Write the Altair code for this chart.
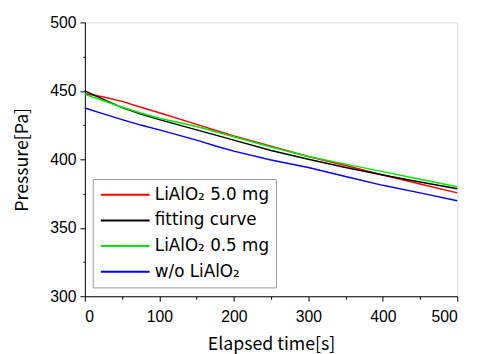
import altair as alt
import pandas as pd

# ---- data ----
series_names = ["LiAlO₂ 5.0 mg", "fitting curve", "LiAlO₂ 0.5 mg", "w/o LiAlO₂"]
series_colors = ["#ff0000", "#000000", "#00e600", "#0000ff"]

t_common = [0, 25, 50, 75, 100, 150, 200, 250, 300, 350, 400, 450, 500]
p_red = [448.0, 445.5, 442.3, 438.0, 434.0, 425.5, 417.0, 409.5, 402.0, 395.5, 388.5, 382.0, 375.5]
p_black = [450.0, 443.8, 437.8, 433.0, 429.0, 421.5, 414.0, 406.5, 400.0, 394.0, 388.5, 383.5, 378.5]
p_green = [447.5, 442.8, 438.0, 433.8, 430.0, 424.0, 416.5, 409.0, 402.0, 396.5, 391.0, 385.5, 380.0]
t_blue = [0, 25, 50, 75, 100, 150, 180, 200, 250, 300, 350, 400, 450, 500]
p_blue = [437.5, 433.2, 429.0, 425.0, 421.5, 414.0, 409.0, 406.0, 399.5, 394.0, 387.5, 381.0, 375.5, 369.8]

x_ticks = [0, 50, 100, 150, 200, 250, 300, 350, 400, 450, 500]
y_ticks = [300, 325, 350, 375, 400, 425, 450, 475, 500]

rows = []
for name, ts, ps in [
    (series_names[0], t_common, p_red),
    (series_names[1], t_common, p_black),
    (series_names[2], t_common, p_green),
    (series_names[3], t_blue, p_blue),
]:
    for t, p in zip(ts, ps):
        rows.append({"t": t, "p": p, "series": name})
df = pd.DataFrame(rows)

TICK_FONT = "Liberation Sans"
JP_FONT = "Noto Sans CJK JP"
LEG_FONT = "DejaVu Sans"

x_axis = alt.Axis(
    values=x_ticks,
    labelExpr="datum.value % 100 === 0 ? datum.label : ''",
    tickSize={"condition": {"test": "datum.value % 100 !== 0", "value": 3}, "value": 5},
    grid=False,
    domainColor="black",
    tickColor="black",
    labelColor="black",
    labelFont=TICK_FONT,
    labelFontSize=16,
    labelPadding=8,
    labelOverlap=False,
    title="Elapsed time[s]",
    titleFont=JP_FONT,
    titleFontSize=18,
    titleFontWeight="normal",
    titleColor="black",
    titlePadding=11,
)

y_axis = alt.Axis(
    values=y_ticks,
    labelExpr="datum.value % 50 === 0 ? datum.label : ''",
    tickSize={"condition": {"test": "datum.value % 50 !== 0", "value": 2}, "value": 5},
    grid=False,
    domainColor="black",
    tickColor="black",
    labelColor="black",
    labelFont=TICK_FONT,
    labelFontSize=16,
    labelPadding=4,
    labelOverlap=False,
    title="Pressure[Pa]",
    titleFont=JP_FONT,
    titleFontSize=18,
    titleFontWeight="normal",
    titleColor="black",
    titlePadding=18,
)

legend = alt.Legend(
    title=None,
    orient="none",
    legendX=8,
    legendY=159,
    symbolType="stroke",
    symbolSize=2450,
    symbolStrokeWidth=2,
    clipHeight=18,
    labelFont=LEG_FONT,
    labelFontSize=17,
    labelColor="black",
    labelLimit=300,
    labelOffset=4,
    rowPadding=8,
    padding=7,
    strokeColor="#999999",
    fillColor="white",
    cornerRadius=0,
)

chart = (
    alt.Chart(df)
    .mark_line(strokeWidth=1.5)
    .encode(
        x=alt.X("t:Q", scale=alt.Scale(domain=[0, 500], nice=False), axis=x_axis),
        y=alt.Y("p:Q", scale=alt.Scale(domain=[300, 500], nice=False, zero=False), axis=y_axis),
        color=alt.Color(
            "series:N",
            scale=alt.Scale(domain=series_names, range=series_colors),
            sort=series_names,
            legend=legend,
        ),
    )
    .properties(
        width=378,
        height=278,
        autosize=alt.AutoSizeParams(type="none"),
        padding={"left": 78, "top": 12, "right": 20, "bottom": 56},
    )
    .configure_view(stroke=None)
    .configure(background="white")
)

chart.save("out.html", embed_options={"renderer": "svg", "actions": False})
